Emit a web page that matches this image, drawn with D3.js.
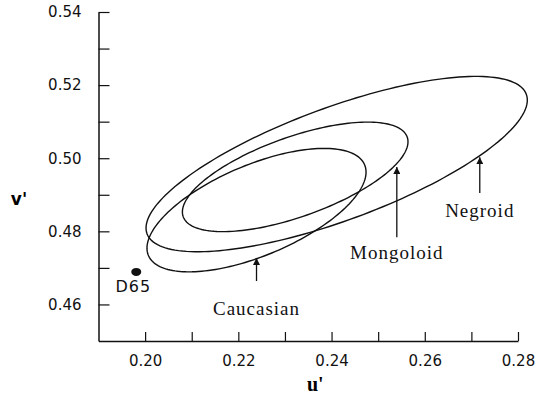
<!DOCTYPE html>
<html>
<head>
<meta charset="utf-8">
<script src="https://cdn.jsdelivr.net/npm/d3@7"></script>
<style>
  body { margin: 0; background: #fff; }
  svg { display: block; }
</style>
</head>
<body>
<div class="graphics"></div>
<script>
// tick values (every 0.01) and the ones that carry a label
var xTicks = [0.20, 0.21, 0.22, 0.23, 0.24, 0.25, 0.26, 0.27, 0.28];
var xLabels = [0.20, 0.22, 0.24, 0.26, 0.28];
var yTicks = [0.46, 0.47, 0.48, 0.49, 0.50, 0.51, 0.52, 0.53, 0.54];
var yLabels = [0.46, 0.48, 0.50, 0.52, 0.54];

// ellipses, in (u', v'):
// centre, rightmost point, and half the vertical chord through the centre
var groupNames = ["Caucasian", "Mongoloid", "Negroid"];
var centerU = [0.2239, 0.2322, 0.2411];
var centerV = [0.4858, 0.4949, 0.4984];
var rightU = [0.2474, 0.2564, 0.2820];
var rightV = [0.4962, 0.5045, 0.5159];
var halfHeightV = [0.0133, 0.0115, 0.0164];

// label arrows: tip on the curve, tail and label baseline below it
var arrowTipU = [0.2239, 0.2540, 0.2718];
var arrowTipV = [0.4727, 0.4976, 0.5003];
var arrowTailV = [0.4664, 0.4784, 0.4905];
var labelV = [0.4571, 0.4724, 0.4839];

// white point
var whiteName = "D65";
var whiteU = 0.1981;
var whiteV = 0.4689;

function chart() {
    var width = 549, height = 396;

    var svg = d3.select(".graphics")
        .append("svg")
        .attr("width", width)
        .attr("height", height);

    var x = d3.scaleLinear().domain([0.19, 0.28]).range([98.5, 518]);
    var y = d3.scaleLinear().domain([0.45, 0.54]).range([341, 12]);

    var fmt = d3.format(".2f");
    function isLabel(list, d) {
        return list.some(function(v) { return Math.abs(v - d) < 1e-6; });
    }

    // X axis, ticks pointing up into the plot
    var gx = svg.append("g")
        .attr("transform", "translate(0," + y(0.45) + ")")
        .call(d3.axisBottom(x)
            .tickValues(xTicks)
            .tickSizeInner(-9)
            .tickSizeOuter(0)
            .tickPadding(14)
            .tickFormat(function(d) { return isLabel(xLabels, d) ? fmt(d) : ""; }));

    // Y axis, ticks pointing right
    var gy = svg.append("g")
        .attr("transform", "translate(" + x(0.19) + ",0)")
        .call(d3.axisLeft(y)
            .tickValues(yTicks)
            .tickSizeInner(-11)
            .tickSizeOuter(0)
            .tickPadding(17)
            .tickFormat(function(d) { return isLabel(yLabels, d) ? fmt(d) : ""; }));

    [gx, gy].forEach(function(g) {
        g.select(".domain").attr("stroke", "#111").attr("stroke-width", 1.5);
        g.selectAll(".tick line").attr("stroke", "#111").attr("stroke-width", 1.2);
        g.selectAll("text")
            .attr("fill", "#111")
            .style("font-family", "'DejaVu Sans', sans-serif")
            .style("font-size", "15px");
    });

    // axis titles
    svg.append("text")
        .attr("x", x(0.2365))
        .attr("y", 391)
        .attr("text-anchor", "middle")
        .style("font-family", "'Liberation Serif', serif")
        .style("font-weight", "bold")
        .style("font-size", "20px")
        .text("u'");

    svg.append("text")
        .attr("x", 19)
        .attr("y", 205)
        .attr("text-anchor", "middle")
        .style("font-family", "'DejaVu Sans', sans-serif")
        .style("font-weight", "bold")
        .style("font-size", "17px")
        .text("v'");

    // Ellipses: centre + cos(t) * (rightmost - centre) + sin(t) * vertical half chord
    var line = d3.line()
        .x(function(d) { return x(d[0]); })
        .y(function(d) { return y(d[1]); })
        .curve(d3.curveLinearClosed);

    var steps = d3.range(0, 2 * Math.PI, Math.PI / 90);
    var shapes = groupNames.map(function(n, i) {
        var du = rightU[i] - centerU[i], dv = rightV[i] - centerV[i];
        return steps.map(function(t) {
            return [centerU[i] + Math.cos(t) * du,
                    centerV[i] + Math.cos(t) * dv + Math.sin(t) * halfHeightV[i]];
        });
    });

    svg.selectAll("path.ellipse")
        .data(shapes)
        .enter()
        .append("path")
            .attr("class", "ellipse")
            .attr("d", line)
            .attr("fill", "none")
            .attr("stroke", "#111")
            .attr("stroke-width", 1.4);

    // arrow heads
    svg.append("defs").append("marker")
        .attr("id", "head")
        .attr("viewBox", "0 0 10 10")
        .attr("refX", 10)
        .attr("refY", 5)
        .attr("markerWidth", 7)
        .attr("markerHeight", 7)
        .attr("markerUnits", "userSpaceOnUse")
        .attr("orient", "auto")
        .append("path")
            .attr("d", "M0,0L10,5L0,10Z")
            .attr("fill", "#111");

    var ann = groupNames.map(function(n, i) {
        return { name: n, u: arrowTipU[i], tip: arrowTipV[i], tail: arrowTailV[i], lab: labelV[i] };
    });

    svg.selectAll("line.arrow")
        .data(ann)
        .enter()
        .append("line")
            .attr("class", "arrow")
            .attr("x1", function(d) { return x(d.u); })
            .attr("x2", function(d) { return x(d.u); })
            .attr("y1", function(d) { return y(d.tail); })
            .attr("y2", function(d) { return y(d.tip); })
            .attr("stroke", "#111")
            .attr("stroke-width", 1.3)
            .attr("marker-end", "url(#head)");

    svg.selectAll("text.group")
        .data(ann)
        .enter()
        .append("text")
            .attr("class", "group")
            .attr("x", function(d) { return x(d.u); })
            .attr("y", function(d) { return y(d.lab); })
            .attr("text-anchor", "middle")
            .style("font-family", "'Liberation Serif', serif")
            .style("font-size", "19px")
            .style("letter-spacing", "1px")
            .attr("fill", "#111")
            .text(function(d) { return d.name; });

    // D65 point
    svg.append("ellipse")
        .attr("cx", x(whiteU))
        .attr("cy", y(whiteV))
        .attr("rx", 5)
        .attr("ry", 4)
        .attr("fill", "#111");

    svg.append("text")
        .attr("x", x(whiteU) - 3)
        .attr("y", y(whiteV) + 20)
        .attr("text-anchor", "middle")
        .style("font-family", "'DejaVu Sans', sans-serif")
        .style("font-size", "16px")
        .style("letter-spacing", "1px")
        .attr("fill", "#111")
        .text(whiteName);
}

chart();
</script>
</body>
</html>
